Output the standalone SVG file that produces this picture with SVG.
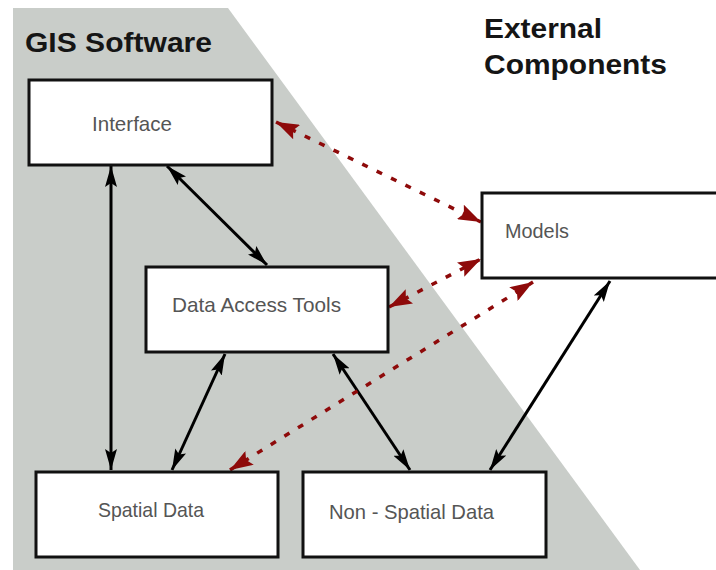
<svg xmlns="http://www.w3.org/2000/svg" width="716" height="570" viewBox="0 0 716 570">
<style>
.box{fill:#fff;stroke:#111;stroke-width:3}
.lbl{font-family:"Liberation Sans",Arial,sans-serif;font-size:21px;fill:#555}
.hd{font-family:"Liberation Sans",Arial,sans-serif;font-size:28px;font-weight:bold;fill:#151515}
.blk{stroke:#000;stroke-width:3;fill:none;marker-start:url(#ab);marker-end:url(#ab)}
.red{stroke:#8e0a0a;stroke-width:3.5;fill:none;stroke-dasharray:6 10;marker-start:url(#ar);marker-end:url(#ar)}
</style>
<defs>
<marker id="ab" markerUnits="userSpaceOnUse" markerWidth="22" markerHeight="12" refX="21" refY="6" orient="auto-start-reverse" viewBox="0 0 22 12">
<path d="M0,0 L21,6 L0,12 L4,6 z" fill="#000"/>
</marker>
<marker id="ar" markerUnits="userSpaceOnUse" markerWidth="24" markerHeight="16" refX="23" refY="8" orient="auto-start-reverse" viewBox="0 0 24 16">
<path d="M0,0 L23,8 L0,16 L4,8 z" fill="#8e0a0a"/>
</marker>
</defs>
<rect width="716" height="570" fill="#fff"/>
<polygon points="13,8 228,8 640,570 13,570" fill="#c9cdc9"/>
<text class="hd" x="25" y="52" textLength="187" lengthAdjust="spacingAndGlyphs">GIS Software</text>
<text class="hd" x="484" y="38" textLength="118" lengthAdjust="spacingAndGlyphs">External</text>
<text class="hd" x="484" y="74" textLength="183" lengthAdjust="spacingAndGlyphs">Components</text>
<g id="connectors">
<line class="blk" x1="111" y1="166" x2="111" y2="470"/>
<line class="blk" x1="167" y1="166" x2="267" y2="265"/>
<line class="blk" x1="225" y1="354" x2="172" y2="470"/>
<line class="blk" x1="333" y1="354" x2="410" y2="470"/>
<line class="blk" x1="610" y1="281" x2="490" y2="470"/>
<line class="red" x1="276" y1="122" x2="481" y2="222"/>
<line class="red" x1="389" y1="307" x2="481" y2="259"/>
<line class="red" x1="230" y1="470" x2="533" y2="282"/>
</g>
<g id="interface">
<rect class="box" x="29" y="80" width="243" height="85"/>
<text class="lbl" x="92" y="131" textLength="80" lengthAdjust="spacingAndGlyphs">Interface</text>
</g>
<g id="models">
<rect class="box" x="482" y="193" width="260" height="85"/>
<text class="lbl" x="505" y="238" textLength="64" lengthAdjust="spacingAndGlyphs">Models</text>
</g>
<g id="data-access-tools">
<rect class="box" x="146" y="267" width="242" height="85"/>
<text class="lbl" x="172" y="312" textLength="169" lengthAdjust="spacingAndGlyphs">Data Access Tools</text>
</g>
<g id="spatial-data">
<rect class="box" x="36" y="472" width="242" height="85"/>
<text class="lbl" x="98" y="517" textLength="106" lengthAdjust="spacingAndGlyphs">Spatial Data</text>
</g>
<g id="non-spatial-data">
<rect class="box" x="303" y="472" width="243" height="85"/>
<text class="lbl" x="329" y="519" textLength="165" lengthAdjust="spacingAndGlyphs">Non - Spatial Data</text>
</g>
</svg>
